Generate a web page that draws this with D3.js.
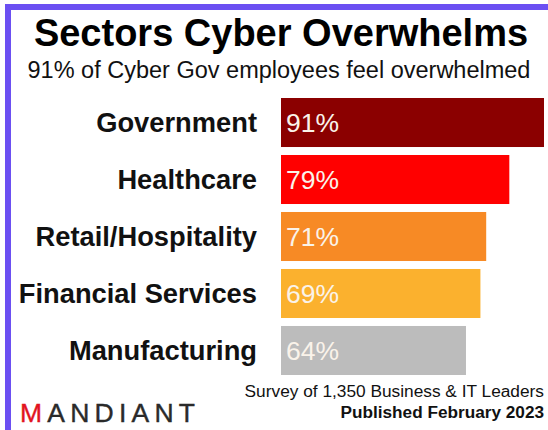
<!DOCTYPE html>
<html>
<head>
<meta charset="utf-8">
<script src="https://cdn.jsdelivr.net/npm/d3@7"></script>
<style>
  html, body { margin: 0; padding: 0; background: #fff; }
  svg { display: block; }
  text { font-family: "Liberation Sans", Arial, sans-serif; }
</style>
</head>
<body>
<script>
const categories = ["Government", "Healthcare", "Retail/Hospitality", "Financial Services", "Manufacturing"];
const values = [91, 79, 71, 69, 64];
const valueLabels = ["91%", "79%", "71%", "69%", "64%"];
const barColors = ["#8b0000", "#ff0000", "#f78a25", "#fbb12e", "#bcbcbc"];
const title = "Sectors Cyber Overwhelms";
const subtitle = "91% of Cyber Gov employees feel overwhelmed";
const footer1 = "Survey of 1,350 Business & IT Leaders";
const footer2 = "Published February 2023";

const W = 548, H = 430;
const svg = d3.select("body").append("svg").attr("width", W).attr("height", H);

svg.append("rect").attr("width", W).attr("height", H).attr("fill", "#fff");
// purple frame (top and left)
const frame = "#6b4ff2";
svg.append("rect").attr("x", 5).attr("y", 4).attr("width", W - 5).attr("height", 6).attr("fill", frame);
svg.append("rect").attr("x", 5).attr("y", 4).attr("width", 6).attr("height", H - 4).attr("fill", frame);

// titles
svg.append("text").attr("x", 281).attr("y", 46).attr("text-anchor", "middle")
  .attr("font-size", 38).attr("font-weight", "bold").attr("fill", "#000").text(title);
svg.append("text").attr("x", 279).attr("y", 78).attr("text-anchor", "middle")
  .attr("font-size", 23.5).attr("fill", "#111").text(subtitle);

// scales
const x = d3.scaleLinear().domain([0, 91]).range([281, 544]);
const y = d3.scaleBand().domain(categories).range([98, 375]).paddingInner(0.14).paddingOuter(0);

const rows = categories.map((c, i) => ({ c, v: values[i], l: valueLabels[i], col: barColors[i] }));

svg.append("g").selectAll("rect").data(rows).join("rect")
  .attr("x", x(0)).attr("y", d => y(d.c))
  .attr("width", d => x(d.v) - x(0)).attr("height", y.bandwidth())
  .attr("fill", d => d.col);

svg.append("g").selectAll("text").data(rows).join("text")
  .attr("x", x(0) + 5).attr("y", d => y(d.c) + y.bandwidth() / 2)
  .attr("dy", "0.36em").attr("font-size", 26.5).attr("fill", "#faf3ea")
  .text(d => d.l);

// category axis labels
svg.append("g").selectAll("text").data(rows).join("text")
  .attr("x", 257).attr("y", d => y(d.c) + y.bandwidth() / 2)
  .attr("dy", "0.36em").attr("text-anchor", "end")
  .attr("font-size", 27.3).attr("font-weight", "bold").attr("fill", "#111")
  .text(d => d.c);

// footer
svg.append("text").attr("x", 544).attr("y", 397).attr("text-anchor", "end")
  .attr("font-size", 17.3).attr("fill", "#111").text(footer1);
svg.append("text").attr("x", 544).attr("y", 418).attr("text-anchor", "end")
  .attr("font-size", 17.2).attr("font-weight", "bold").attr("fill", "#111").text(footer2);

// logo
const logo = svg.append("text").attr("x", 20).attr("y", 422)
  .attr("font-size", 26.5).attr("textLength", 175).attr("lengthAdjust", "spacing")
  .attr("stroke-width", 0.4);
logo.append("tspan").attr("fill", "#e2141f").attr("stroke", "#e2141f").text("M");
logo.append("tspan").attr("fill", "#2a2a2a").attr("stroke", "#2a2a2a").text("ANDIANT");
</script>
</body>
</html>
